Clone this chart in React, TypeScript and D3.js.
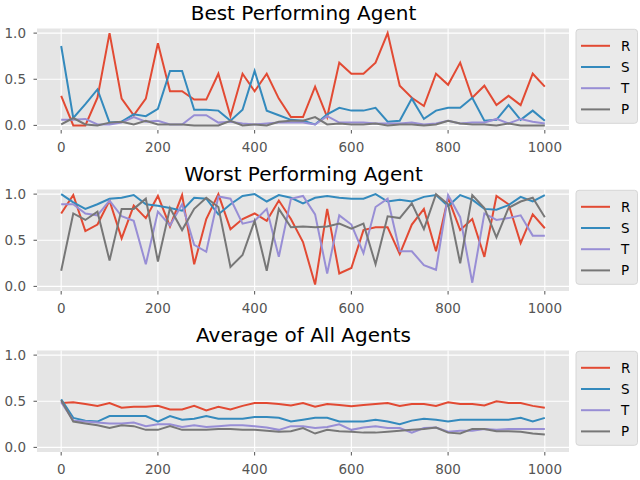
import { line, scaleLinear } from 'd3';

const steps = [
  0, 25, 50, 75, 100, 125, 150, 175, 200, 225, 250, 275, 300, 325, 350, 375, 400, 425, 450, 475, 500,
  525, 550, 575, 600, 625, 650, 675, 700, 725, 750, 775, 800, 825, 850, 875, 900, 925, 950, 975, 1000,
];

const strategies = ['R', 'S', 'T', 'P'];
const colors = ['#E24A33', '#348ABD', '#988ED5', '#777777'];
const titles = ['Best Performing Agent', 'Worst Performing Agent', 'Average of All Agents'];
const xTicks = [0, 200, 400, 600, 800, 1000];
const yTicks = [0, 0.5, 1];

const bestR = [0.32, 0, 0, 0.3, 1.0, 0.29, 0.11, 0.29, 0.89, 0.37, 0.37, 0.28, 0.28, 0.56, 0.1, 0.56, 0.37, 0.56, 0.29, 0.09, 0.09, 0.42, 0.09, 0.68, 0.56, 0.56, 0.68, 1.0, 0.43, 0.3, 0.21, 0.56, 0.44, 0.68, 0.3, 0.43, 0.22, 0.32, 0.22, 0.56, 0.42];
const bestS = [0.86, 0.08, 0.23, 0.39, 0.03, 0.04, 0.12, 0.1, 0.18, 0.59, 0.59, 0.17, 0.17, 0.16, 0.05, 0.17, 0.59, 0.16, 0.11, 0.06, 0.05, 0.01, 0.12, 0.19, 0.16, 0.16, 0.19, 0.04, 0.05, 0.29, 0.07, 0.16, 0.19, 0.19, 0.3, 0.05, 0.06, 0.22, 0.06, 0.16, 0.05];
const bestT = [0.06, 0.06, 0.07, 0.01, 0.01, 0.03, 0.09, 0.04, 0.05, 0.01, 0.01, 0.11, 0.11, 0.03, 0.04, 0.02, 0.01, 0.02, 0.03, 0.03, 0.03, 0.01, 0.1, 0.03, 0.03, 0.03, 0.02, 0.02, 0.02, 0.03, 0.01, 0.02, 0.05, 0.02, 0.03, 0.03, 0.07, 0.02, 0.07, 0.04, 0.02];
const bestP = [0.01, 0.08, 0.01, 0, 0.03, 0.04, 0.01, 0.05, 0.01, 0.01, 0.01, 0, 0, 0, 0.05, 0, 0.01, 0, 0.04, 0.05, 0.05, 0.09, 0.01, 0.02, 0.01, 0.01, 0.02, 0, 0.01, 0.01, 0, 0.01, 0.05, 0.02, 0.01, 0.01, 0, 0.02, 0, 0, 0];

const worstR = [0.79, 0.99, 0.6, 0.67, 0.93, 0.52, 0.875, 0.74, 0.98, 0.65, 0.99, 0.24, 0.73, 1.0, 0.62, 0.73, 0.79, 0.71, 0.93, 0.73, 0.48, 0.02, 0.84, 0.14, 0.2, 0.61, 0.64, 0.64, 0.35, 0.67, 0.84, 0.38, 0.96, 0.61, 0.73, 0.32, 0.98, 0.89, 0.47, 0.78, 0.63];
const worstS = [1.0, 0.91, 0.84, 0.89, 0.95, 0.96, 0.99, 0.89, 0.875, 0.85, 0.82, 0.96, 0.95, 0.78, 0.89, 0.98, 1.0, 0.92, 0.99, 0.96, 0.9, 0.96, 0.98, 0.96, 0.95, 0.95, 1.0, 0.92, 0.94, 0.92, 0.97, 0.99, 0.87, 0.99, 0.94, 0.84, 0.83, 0.88, 0.97, 0.92, 0.99];
const worstT = [0.89, 0.89, 0.79, 0.77, 0.93, 0.76, 0.71, 0.24, 0.81, 0.66, 0.89, 0.45, 0.375, 0.975, 0.95, 0.68, 0.71, 0.84, 0.32, 0.95, 0.98, 0.78, 0.14, 0.77, 0.67, 0.36, 0.86, 0.95, 0.38, 0.38, 0.23, 0.18, 0.99, 0.75, 0.04, 0.79, 0.72, 0.74, 0.77, 0.55, 0.55];
const worstP = [0.17, 0.79, 0.72, 0.81, 0.28, 0.84, 0.84, 0.95, 0.27, 0.85, 0.61, 0.84, 0.96, 0.86, 0.21, 0.34, 0.71, 0.17, 0.84, 0.64, 0.65, 0.64, 0.65, 0.68, 0.625, 0.68, 0.24, 0.76, 0.74, 0.9, 0.62, 1.0, 0.89, 0.25, 0.99, 0.85, 0.53, 0.85, 0.92, 0.96, 0.75];

const avgR = [0.48, 0.49, 0.47, 0.45, 0.48, 0.43, 0.44, 0.44, 0.45, 0.41, 0.41, 0.45, 0.4, 0.44, 0.41, 0.45, 0.48, 0.48, 0.47, 0.455, 0.48, 0.44, 0.47, 0.46, 0.445, 0.46, 0.47, 0.48, 0.45, 0.47, 0.47, 0.45, 0.49, 0.47, 0.47, 0.455, 0.5, 0.48, 0.48, 0.45, 0.43];
const avgS = [0.52, 0.32, 0.29, 0.28, 0.34, 0.34, 0.34, 0.34, 0.28, 0.34, 0.3, 0.31, 0.34, 0.31, 0.31, 0.31, 0.33, 0.33, 0.32, 0.28, 0.3, 0.32, 0.32, 0.28, 0.28, 0.28, 0.3, 0.28, 0.25, 0.29, 0.31, 0.3, 0.28, 0.3, 0.3, 0.3, 0.3, 0.3, 0.32, 0.28, 0.32];
const avgT = [0.49, 0.29, 0.28, 0.27, 0.26, 0.26, 0.27, 0.23, 0.25, 0.25, 0.22, 0.24, 0.22, 0.23, 0.24, 0.24, 0.23, 0.215, 0.19, 0.23, 0.23, 0.21, 0.22, 0.25, 0.19, 0.215, 0.23, 0.21, 0.21, 0.16, 0.21, 0.215, 0.17, 0.18, 0.18, 0.2, 0.19, 0.2, 0.2, 0.2, 0.2];
const avgP = [0.51, 0.28, 0.26, 0.24, 0.21, 0.24, 0.23, 0.19, 0.19, 0.23, 0.19, 0.19, 0.19, 0.2, 0.2, 0.19, 0.19, 0.18, 0.17, 0.175, 0.21, 0.15, 0.19, 0.175, 0.17, 0.16, 0.16, 0.17, 0.18, 0.19, 0.2, 0.215, 0.16, 0.15, 0.2, 0.2, 0.175, 0.175, 0.17, 0.15, 0.14];

const panels = [
  [bestR, bestS, bestT, bestP],
  [worstR, worstS, worstT, worstP],
  [avgR, avgS, avgT, avgP],
];

const font = 'DejaVu Sans, sans-serif';

const left = 37;
const right = 569;
const panelTop = 28.5;
const panelHeight = 101.5;
const panelGap = 161;

function Panel({ index }: { index: number }) {
  const top = panelTop + index * panelGap;
  const bottom = top + panelHeight;
  const x = scaleLinear().domain([-50, 1050]).range([left, right]);
  const y = scaleLinear().domain([-0.05, 1.05]).range([bottom, top]);
  const path = line<number>()
    .x((_, i) => x(steps[i]))
    .y((d) => y(d));
  const series = panels[index];

  return (
    <g>
      <text x={(left + right) / 2 + 0.5} y={top - 8.5} textAnchor="middle" fontSize={20} fill="#000">
        {titles[index]}
      </text>
      <rect x={left} y={top} width={right - left} height={panelHeight} fill="#E5E5E5" />
      {xTicks.map((t) => (
        <g key={'x' + t}>
          <line x1={x(t)} x2={x(t)} y1={top} y2={bottom} stroke="#fff" strokeWidth={1.1} />
          <line x1={x(t)} x2={x(t)} y1={bottom} y2={bottom + 3.5} stroke="#555" strokeWidth={1} />
          <text x={x(t)} y={bottom + 21.5} textAnchor="middle" fontSize={13.5} fill="#555">
            {t}
          </text>
        </g>
      ))}
      {yTicks.map((t) => (
        <g key={'y' + t}>
          <line x1={left} x2={right} y1={y(t)} y2={y(t)} stroke="#fff" strokeWidth={1.1} />
          <line x1={left - 3.5} x2={left} y1={y(t)} y2={y(t)} stroke="#555" strokeWidth={1} />
          <text x={left - 11} y={y(t) + 5} textAnchor="end" fontSize={13.5} fill="#555">
            {t.toFixed(1)}
          </text>
        </g>
      ))}
      {series.map((s, i) => (
        <path key={strategies[i]} d={path(s) ?? ''} fill="none" stroke={colors[i]} strokeWidth={2} />
      ))}
      <g transform={`translate(576,${top + 0.8})`}>
        <rect x={0} y={0} width={61.5} height={94} rx={3} fill="#EAEAEA" stroke="#D6D6D6" strokeWidth={1} />
        {strategies.map((s, i) => (
          <g key={s} transform={`translate(0,${16.5 + i * 21.2})`}>
            <line x1={5} x2={34} y1={0} y2={0} stroke={colors[i]} strokeWidth={2} />
            <text x={45} y={5} fontSize={13.5} fill="#000">
              {s}
            </text>
          </g>
        ))}
      </g>
    </g>
  );
}

export default function App() {
  return (
    <svg
      width={640}
      height={480}
      style={{ position: 'absolute', left: 0, top: 0, background: '#fff' }}
      fontFamily={font}
    >
      <rect width={640} height={480} fill="#fff" />
      {titles.map((_, i) => (
        <Panel key={i} index={i} />
      ))}
    </svg>
  );
}
